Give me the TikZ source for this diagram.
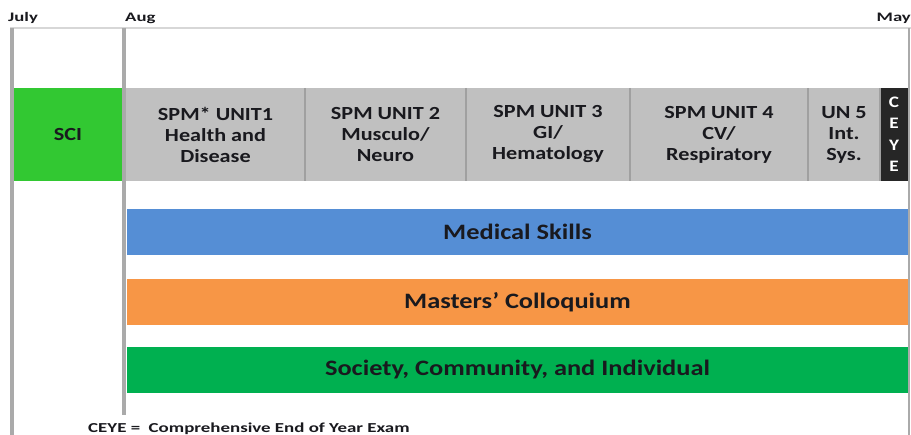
\documentclass[tikz,border=0pt]{standalone}
\usepackage{fontspec}
\setmainfont[FakeStretch=1.2]{Carlito}
\definecolor{scigreen}{RGB}{50,200,50}
\definecolor{cellgray}{RGB}{192,192,192}
\definecolor{sepgray}{RGB}{160,160,160}
\definecolor{linegray}{RGB}{170,170,170}
\definecolor{topgray}{RGB}{215,215,215}
\definecolor{ceyeblack}{RGB}{38,38,38}
\definecolor{skillblue}{RGB}{85,142,213}
\definecolor{colorange}{RGB}{247,150,70}
\definecolor{socgreen}{RGB}{0,176,80}
\definecolor{txt}{RGB}{25,25,30}
\begin{document}
\begin{tikzpicture}[x=1pt,y=-1pt,
  cell/.style={anchor=north west,inner sep=0pt,outer sep=0pt,align=center,
     text=txt,font=\fontsize{18.5}{21}\selectfont\bfseries},
  bar/.style={anchor=north west,inner sep=0pt,outer sep=0pt,align=center,
     text=txt,font=\fontsize{22}{24}\selectfont\bfseries,minimum width=781pt,minimum height=46pt},
  month/.style={inner sep=0pt,anchor=base west,text=txt,font=\fontsize{13}{15}\selectfont\bfseries},
  sep/.style={draw=sepgray,line width=2pt},
  vline/.style={draw=linegray,line width=4pt}]
\useasboundingbox (0,0) rectangle (911,435);
% top line and verticals
\draw[draw=topgray,line width=2pt] (10,28) -- (911,28);
\draw[vline] (12,28) -- (12,435);
\draw[vline] (124,28) -- (124,415);
\draw[draw=linegray,line width=2pt] (909,28) -- (909,435);
% month labels
\node[month] (jul) at (8,22) {\scalebox{1.2}[1]{July}};
\node[month] (aug) at (125,22) {\scalebox{1.2}[1]{Aug}};
\node[month,anchor=base east] (may) at (911,22) {\scalebox{1.2}[1]{May}};
% top row
\node[cell,fill=scigreen,minimum width=108pt,minimum height=93pt] (sci) at (14,88) {SCI};
\node[cell,fill=cellgray,minimum width=179pt,minimum height=93pt] (u1) at (126,88) {SPM* UNIT1\\Health and\\Disease};
\node[cell,fill=cellgray,minimum width=161pt,minimum height=93pt] (u2) at (305,88) {SPM UNIT 2\\Musculo/\\Neuro};
\node[cell,fill=cellgray,minimum width=164pt,minimum height=93pt] (u3) at (466,88) {SPM UNIT 3\\GI/\\Hematology};
\node[cell,fill=cellgray,minimum width=178pt,minimum height=93pt] (u4) at (630,88) {SPM UNIT 4\\CV/\\Respiratory};
\node[cell,fill=cellgray,minimum width=72pt,minimum height=93pt] (u5) at (808,88) {UN 5\\Int.\\Sys.};
\node[cell,fill=ceyeblack,text=white,minimum width=28pt,minimum height=93pt,
      font=\fontsize{16}{21.5}\selectfont\bfseries] (ceye) at (880,88) {C\\E\\Y\\E};
\draw[sep] (u1.north east) -- (u1.south east);
\draw[sep] (u2.north east) -- (u2.south east);
\draw[sep] (u3.north east) -- (u3.south east);
\draw[sep] (u4.north east) -- (u4.south east);
\draw[sep] (u5.north east) -- (u5.south east);
% bars
\node[bar,fill=skillblue] (ms) at (127,209) {Medical Skills};
\node[bar,fill=colorange] (mc) at (127,279) {Masters' Colloquium};
\node[bar,fill=socgreen] (sc) at (127,347) {Society, Community, and Individual};
% footnote
\node[inner sep=0pt,anchor=base west,text=txt,font=\fontsize{13.7}{15}\selectfont\bfseries] (note) at (88,433) {\scalebox{1.15}[1]{CEYE =\ \ Comprehensive End of Year Exam}};
\end{tikzpicture}
\end{document}
